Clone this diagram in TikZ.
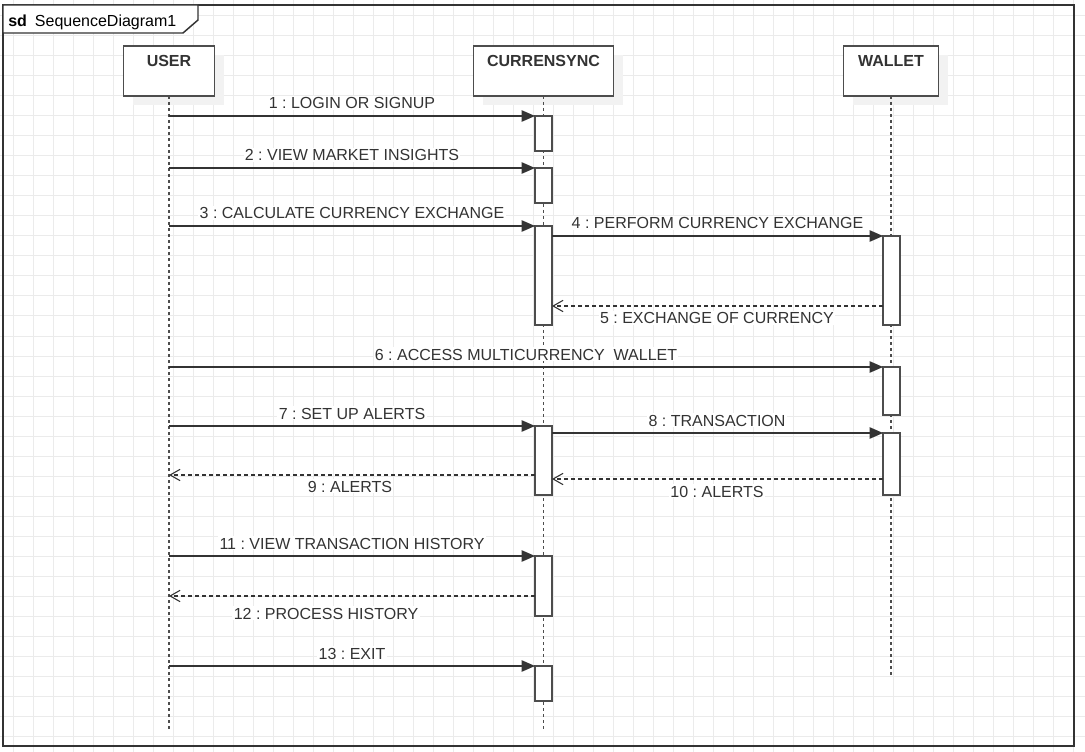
\documentclass[tikz,border=0pt]{standalone}
\usepackage{fontspec}
\setmainfont{Liberation Sans}
\usetikzlibrary{arrows.meta,shadows}
\definecolor{ln}{HTML}{333333}
\definecolor{bx}{HTML}{4D4D4D}
\definecolor{gridc}{HTML}{EBEBEB}
\frenchspacing
\begin{document}
\begin{tikzpicture}[x=0.75pt,y=-0.75pt,
  every node/.style={font=\fontsize{12pt}{14pt}\selectfont, text=ln},
  gridline/.style={draw=gridc, line width=0.75pt},
  framebox/.style={draw=ln, line width=1.1pt},
  headbox/.style={draw=bx, line width=1.1pt, fill=white, inner sep=0pt, outer sep=0pt,
    minimum height=37.5pt,
    drop shadow={shadow xshift=6.75pt, shadow yshift=-6.75pt, fill=black!5, opacity=1}},
  headtxt/.style={font=\bfseries\fontsize{12pt}{14pt}\selectfont, anchor=base, inner sep=0pt},
  life/.style={draw=bx, line width=1.1pt, dash pattern=on 2.25pt off 2.25pt},
  actbox/.style={draw=bx, line width=1.1pt, fill=white, inner sep=0pt, outer sep=0pt,
    minimum width=12.75pt, anchor=north},
  msg/.style={draw=ln, line width=1pt, -{Triangle[length=10pt,width=8.5pt]}},
  ret/.style={draw=ln, line width=0.9pt, dash pattern=on 3pt off 2.25pt,
    -{Straight Barb[length=7.5pt,width=8.5pt,line width=0.8pt]}},
  lbl/.style={anchor=base, fill=white, inner sep=1pt}
]
\useasboundingbox (0,0) rectangle (1085,752);
\fill[white] (0,0) rectangle (1085,752);
% grid
\foreach \i in {0,...,53} \draw[gridline] (13.5+20*\i,0) -- (13.5+20*\i,752);
\foreach \j in {0,...,36} \draw[gridline] (0,16+20*\j) -- (1085,16+20*\j);

% frame
\draw[framebox] (3,5) rectangle (1074,746);
\draw[framebox, fill=white] (3,5) -- (198,5) -- (198,20) -- (183,33) -- (3,33) -- cycle;
\node[anchor=base west, inner sep=0pt, text=black] (title) at (8,26.5) {\textbf{sd}\hspace{6pt}SequenceDiagram1};

% lifeline heads
\node[headbox, minimum width=68.25pt] (user) at (169,71) {};
\node[headbox, minimum width=105pt] (cur) at (543.5,71) {};
\node[headbox, minimum width=71.25pt] (wal) at (891,71) {};
\node[headtxt] (usert) at (169,66.5) {USER};
\node[headtxt] (curt) at (543.5,66.5) {CURRENSYNC};
\node[headtxt] (walt) at (891,66.5) {WALLET};

% lifelines
\coordinate (uend) at (169,730);
\coordinate (cend) at (543.5,730);
\coordinate (wend) at (891,675);
\draw[life] (user.south) -- (uend);
\draw[life] (cur.south) -- (cend);
\draw[life] (wal.south) -- (wend);

% activations
\node[actbox, minimum height=26.25pt] (a1) at (543.5,116) {};
\node[actbox, minimum height=26.25pt] (a2) at (543.5,168) {};
\node[actbox, minimum height=74.25pt] (a3) at (543.5,226) {};
\node[actbox, minimum height=66.75pt] (a4) at (891.5,236) {};
\node[actbox, minimum height=36pt]    (a5) at (891.5,367) {};
\node[actbox, minimum height=51.75pt] (a6) at (543.5,426) {};
\node[actbox, minimum height=46.5pt]  (a7) at (891.5,433) {};
\node[actbox, minimum height=45pt]    (a8) at (543.5,556) {};
\node[actbox, minimum height=26.25pt] (a9) at (543.5,666) {};

% start points on USER lifeline
\coordinate (u1) at (169,116);
\coordinate (u2) at (169,168);
\coordinate (u3) at (169,226);
\coordinate (u6) at (169,367);
\coordinate (u7) at (169,426);
\coordinate (u9) at (169,475);
\coordinate (u11) at (169,556);
\coordinate (u12) at (169,596);
\coordinate (u13) at (169,666);
\coordinate (r5) at (700,306);
\coordinate (r10) at (700,479);

% messages
\draw[msg] (u1) -- (a1.north west);
\draw[msg] (u2) -- (a2.north west);
\draw[msg] (u3) -- (a3.north west);
\draw[msg] (a3.east |- a4.north) -- (a4.north west);
\draw[ret] (a4.west |- r5) -- (a3.east |- r5);
\draw[msg] (u6) -- (a5.north west);
\draw[msg] (u7) -- (a6.north west);
\draw[msg] (a6.east |- a7.north) -- (a7.north west);
\draw[ret] (a6.west |- u9) -- (u9);
\draw[ret] (a7.west |- r10) -- (a6.east |- r10);
\draw[msg] (u11) -- (a8.north west);
\draw[ret] (a8.west |- u12) -- (u12);
\draw[msg] (u13) -- (a9.north west);

% labels
\node[lbl] (l1) at (352,109) {1 : LOGIN OR SIGNUP};
\node[lbl] (l2) at (352,161) {2 : VIEW MARKET INSIGHTS};
\node[lbl] (l3) at (352,219) {3 : CALCULATE CURRENCY EXCHANGE};
\node[lbl] (l4) at (717.5,229) {4 : PERFORM CURRENCY EXCHANGE};
\node[lbl] (l5) at (717,324) {5 : EXCHANGE OF CURRENCY};
\node[lbl] (l6) at (526,360) {6 : ACCESS MULTICURRENCY\ \ WALLET};
\node[lbl] (l7) at (352,419) {7 : SET UP ALERTS};
\node[lbl] (l8) at (717,426) {8 : TRANSACTION};
\node[lbl] (l9) at (350,492) {9 : ALERTS};
\node[lbl] (l10) at (717,497) {10 : ALERTS};
\node[lbl] (l11) at (352,549) {11 : VIEW TRANSACTION HISTORY};
\node[lbl] (l12) at (326,619) {12 : PROCESS HISTORY};
\node[lbl] (l13) at (352,659) {13 : EXIT};
\end{tikzpicture}
\end{document}
